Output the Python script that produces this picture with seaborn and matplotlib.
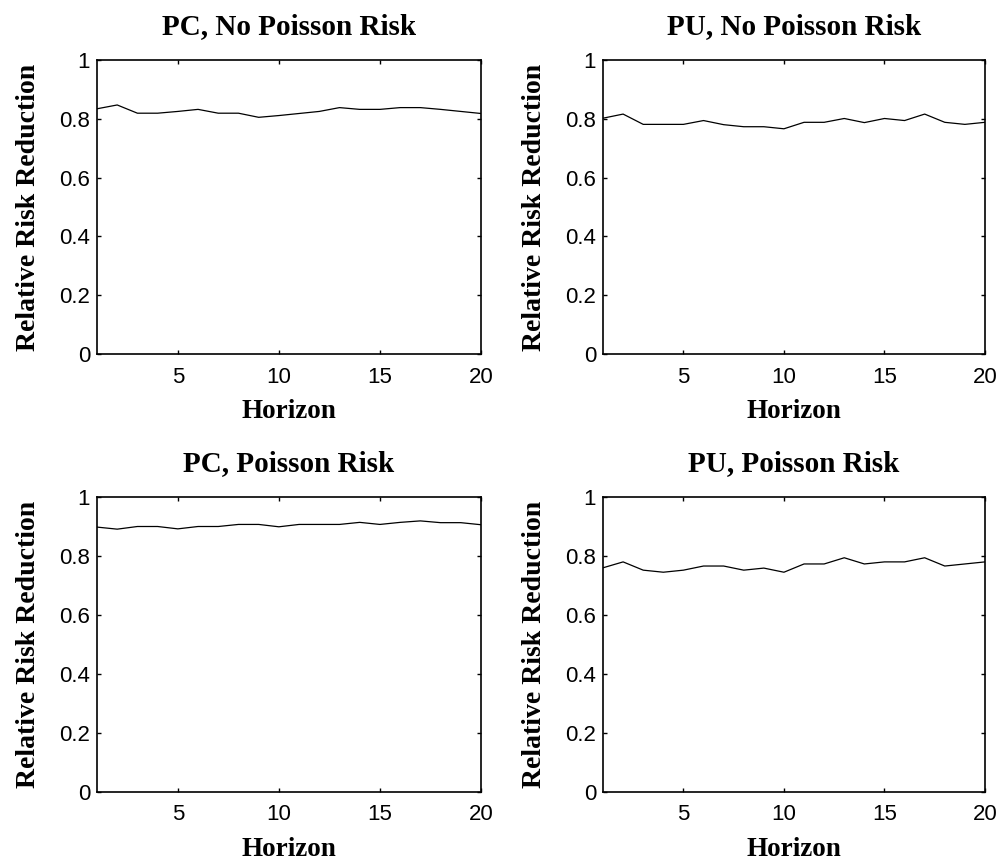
import matplotlib
matplotlib.use("Agg")
import matplotlib.pyplot as plt
import seaborn as sns
import pandas as pd

# Horizon 1..20 and relative risk reduction
horizon = list(range(1, 21))
pc_no_poisson = [0.834, 0.847, 0.819, 0.819, 0.825, 0.832, 0.819, 0.819, 0.805, 0.811,
                 0.818, 0.825, 0.838, 0.832, 0.832, 0.838, 0.838, 0.832, 0.825, 0.818]
pu_no_poisson = [0.802, 0.816, 0.781, 0.781, 0.781, 0.794, 0.780, 0.773, 0.773, 0.766,
                 0.788, 0.788, 0.801, 0.787, 0.801, 0.794, 0.816, 0.788, 0.781, 0.788]
pc_poisson = [0.898, 0.891, 0.900, 0.900, 0.892, 0.900, 0.900, 0.907, 0.907, 0.899,
              0.907, 0.907, 0.907, 0.914, 0.907, 0.914, 0.919, 0.913, 0.913, 0.906]
pu_poisson = [0.760, 0.780, 0.752, 0.745, 0.752, 0.766, 0.766, 0.752, 0.759, 0.745,
              0.773, 0.773, 0.794, 0.773, 0.780, 0.780, 0.794, 0.766, 0.773, 0.780]

titles = ["PC, No Poisson Risk", "PU, No Poisson Risk", "PC, Poisson Risk", "PU, Poisson Risk"]
series = [pc_no_poisson, pu_no_poisson, pc_poisson, pu_poisson]
y_ticks = [0, 0.2, 0.4, 0.6, 0.8, 1]
y_tick_labels = ["0", "0.2", "0.4", "0.6", "0.8", "1"]
x_ticks = [5, 10, 15, 20]

sns.set_style("white")
plt.rcParams["font.family"] = ["Liberation Sans", "DejaVu Sans"]
plt.rcParams["text.color"] = "black"
plt.rcParams["axes.labelcolor"] = "black"
plt.rcParams["xtick.color"] = "black"
plt.rcParams["ytick.color"] = "black"

fig = plt.figure(figsize=(10.01, 8.63), dpi=100)

# axes boxes in figure fractions (left, bottom, width, height)
boxes = [
    (0.0969, 0.5898, 0.3836, 0.3407),
    (0.6024, 0.5898, 0.3816, 0.3407),
    (0.0969, 0.0823, 0.3836, 0.3418),
    (0.6024, 0.0823, 0.3816, 0.3418),
]

serif_bold = dict(family="Liberation Serif", fontweight="bold", color="black")

for box, title, vals in zip(boxes, titles, series):
    ax = fig.add_axes(box)
    df = pd.DataFrame({"Horizon": horizon, "value": vals})
    sns.lineplot(data=df, x="Horizon", y="value", ax=ax, color="black", linewidth=0.9)

    ax.set_xlim(1, 20)
    ax.set_ylim(0, 1)
    ax.set_xticks(x_ticks)
    ax.set_yticks(y_ticks)
    ax.set_yticklabels(y_tick_labels)
    ax.tick_params(direction="in", length=3, width=1, labelsize=16, color="black",
                   labelcolor="black", top=True, right=True, bottom=True, left=True)
    ax.tick_params(axis="x", pad=9)
    ax.tick_params(axis="y", pad=5)

    for sp in ax.spines.values():
        sp.set_visible(True)
        sp.set_color("black")
        sp.set_linewidth(1.2)

    ax.set_title(title, fontsize=21, pad=19, **serif_bold)
    ax.set_xlabel("Horizon", fontsize=19.5, labelpad=8.5, **serif_bold)
    ax.set_ylabel("Relative Risk Reduction", fontsize=20, labelpad=13, **serif_bold)

fig.savefig("out.png", dpi=100, facecolor="white")
